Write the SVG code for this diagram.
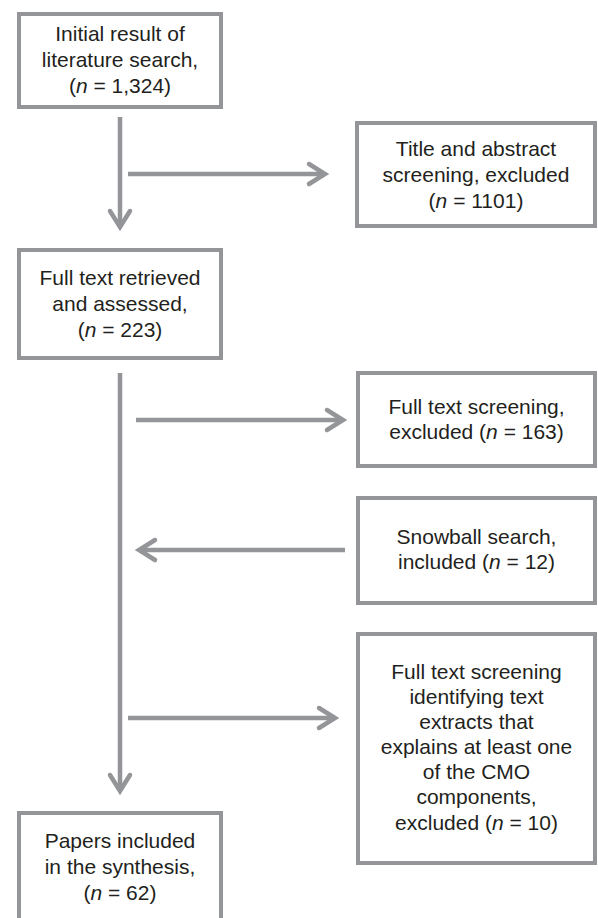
<svg xmlns="http://www.w3.org/2000/svg" width="598" height="918" viewBox="0 0 598 918">
<style>
.box{fill:#ffffff;stroke:#939598;stroke-width:4}
.t{font-family:"Liberation Sans",Arial,sans-serif;font-size:21px;fill:#231f20;text-anchor:middle}
.i{font-style:italic}
.ln{fill:none;stroke:#939598;stroke-width:4.5;stroke-linecap:butt}
.hd{fill:none;stroke:#939598;stroke-width:4.5;stroke-linecap:round;stroke-linejoin:miter}
</style>
<rect width="598" height="918" fill="#ffffff"/>
<g id="connectors">
<line class="ln" x1="120" y1="117" x2="120" y2="227"/>
<path class="hd" d="M110,211 L120,227 L130,211"/>
<line class="ln" x1="128" y1="174" x2="325" y2="174"/>
<path class="hd" d="M309,164 L325,174 L309,184"/>
<line class="ln" x1="120" y1="373" x2="120" y2="791"/>
<path class="hd" d="M110,775 L120,791 L130,775"/>
<line class="ln" x1="136" y1="420" x2="343" y2="420"/>
<path class="hd" d="M327,410 L343,420 L327,430"/>
<line class="ln" x1="345" y1="550" x2="139" y2="550"/>
<path class="hd" d="M155,540 L139,550 L155,560"/>
<line class="ln" x1="128" y1="718" x2="335" y2="718"/>
<path class="hd" d="M319,708 L335,718 L319,728"/>
</g>
<g id="n1">
<rect class="box" x="19" y="14" width="202" height="93"/>
<text class="t" x="120" y="41">Initial result of</text>
<text class="t" x="120" y="67">literature search,</text>
<text class="t" x="120" y="93">(<tspan class="i">n</tspan> = 1,324)</text>
</g>
<g id="n2">
<rect class="box" x="357" y="123" width="238" height="103"/>
<text class="t" x="476" y="156">Title and abstract</text>
<text class="t" x="476" y="182">screening, excluded</text>
<text class="t" x="476" y="208">(<tspan class="i">n</tspan> = 1101)</text>
</g>
<g id="n3">
<rect class="box" x="19" y="250" width="202" height="108"/>
<text class="t" x="120" y="285">Full text retrieved</text>
<text class="t" x="120" y="311">and assessed,</text>
<text class="t" x="120" y="337">(<tspan class="i">n</tspan> = 223)</text>
</g>
<g id="n4">
<rect class="box" x="358" y="373" width="237" height="93"/>
<text class="t" x="476.5" y="414">Full text screening,</text>
<text class="t" x="476.5" y="439">excluded (<tspan class="i">n</tspan> = 163)</text>
</g>
<g id="n5">
<rect class="box" x="358" y="498" width="237" height="105"/>
<text class="t" x="476.5" y="544">Snowball search,</text>
<text class="t" x="476.5" y="569">included (<tspan class="i">n</tspan> = 12)</text>
</g>
<g id="n6">
<rect class="box" x="358" y="634" width="237" height="229"/>
<text class="t" x="476.5" y="679">Full text screening</text>
<text class="t" x="476.5" y="704">identifying text</text>
<text class="t" x="476.5" y="729">extracts that</text>
<text class="t" x="476.5" y="754">explains at least one</text>
<text class="t" x="476.5" y="779">of the CMO</text>
<text class="t" x="476.5" y="804">components,</text>
<text class="t" x="476.5" y="830">excluded (<tspan class="i">n</tspan> = 10)</text>
</g>
<g id="n7">
<rect class="box" x="19" y="813" width="202" height="125"/>
<text class="t" x="120" y="848">Papers included</text>
<text class="t" x="120" y="874">in the synthesis,</text>
<text class="t" x="120" y="900">(<tspan class="i">n</tspan> = 62)</text>
</g>
</svg>
